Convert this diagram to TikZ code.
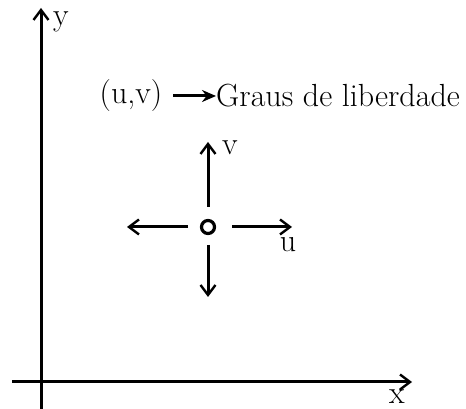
\documentclass[tikz,border=0pt]{standalone}
\usetikzlibrary{arrows.meta,positioning}
\tikzset{
  eixo/.style={line width=3pt, -{Straight Barb[length=10pt, width=15pt, line width=2.4pt]}},
  vetor/.style={line width=3pt, -{Straight Barb[length=10pt, width=15pt, line width=2.4pt]}},
  seta/.style={line width=3pt, -{Stealth[length=14pt, width=12pt]}},
  rotulo/.style={font=\fontsize{32}{38}\selectfont, inner sep=0pt},
  no/.style={circle, draw, line width=3.2pt, minimum size=13pt, inner sep=0pt, fill=white},
}
\begin{document}
\begin{tikzpicture}[x=1pt, y=1pt]
  \useasboundingbox (0,0) rectangle (466,409);
  % eixos
  \coordinate (ybase) at (41,0);
  \coordinate (ytopo) at (41,401);
  \coordinate (xbase) at (12,27);
  \coordinate (xfim) at (412,27);
  \draw[eixo] (ybase) -- (ytopo);
  \draw[eixo] (xbase) -- (xfim);
  \node[rotulo, anchor=west] (ylab) at (53,387) {y};
  \node[rotulo] (xlab) at (397,12) {x};
  % graus de liberdade
  \node[rotulo] (uv) at (131,313) {(u,v)};
  \node[rotulo, anchor=west] (graus) at (216,313) {Graus de liberdade};
  \draw[seta] (uv.east) ++(11pt,0) coordinate (sini) -- (graus.west);
  % no e deslocamentos
  \node[no] (p) at (208,182) {};
  \coordinate (vtopo) at (208,267);
  \coordinate (vbaixo) at (208,112);
  \coordinate (uesq) at (127,182);
  \coordinate (udir) at (292,182);
  \draw[vetor, shorten <=20pt] (p.center) -- (vtopo);
  \draw[vetor, shorten <=18pt] (p.center) -- (vbaixo);
  \draw[vetor, shorten <=20pt] (p.center) -- (uesq);
  \draw[vetor, shorten <=24pt] (p.center) -- (udir);
  \node[rotulo, anchor=west] (vlab) at (222,261) {v};
  \node[rotulo] (ulab) at (288,164) {u};
\end{tikzpicture}
\end{document}
